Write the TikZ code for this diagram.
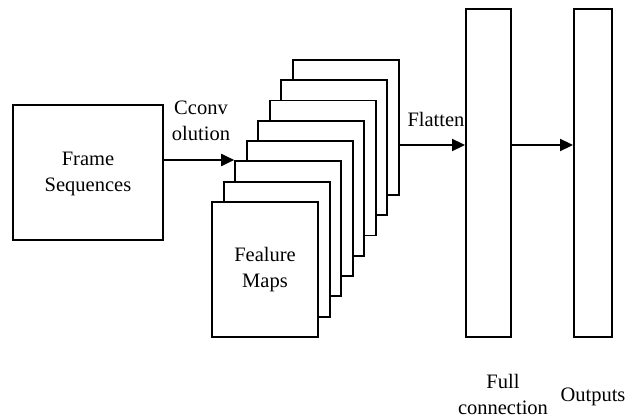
\documentclass[tikz,border=0pt]{standalone}
\usepackage{fontspec}
\setmainfont{Liberation Serif}
\usetikzlibrary{arrows.meta,calc}
\begin{document}
\begin{tikzpicture}[x=1pt,y=-1pt,
  box/.style={draw,line width=1.9pt,fill=white,inner sep=0pt},
  lbl/.style={font=\fontsize{20.5}{26}\selectfont,align=center,inner sep=0pt},
  conn/.style={line width=1.9pt,-{Triangle[length=13pt,width=12pt]}}]
\useasboundingbox (0,0) rectangle (639,419);

% input block
\node[box,minimum width=150pt,minimum height=135pt] (frames) at (88,172.5) {};
\node[lbl] (framestxt) at (88,174) {Frame\\Sequences};

% stack of feature maps, back to front
\foreach \i in {7,6,...,0}{
  \pgfmathsetmacro{\cx}{265+11.57*\i}
  \pgfmathsetmacro{\cy}{269.5-20.3*\i}
  \node[box,minimum width=106pt,minimum height=135pt] (fm\i) at (\cx,\cy) {};
}
\node[lbl] (fmtxt) at (265,270) {Fealure\\Maps};

% dense layers
\node[box,minimum width=45pt,minimum height=328pt] (fc) at (488.5,173) {};
\node[box,minimum width=38pt,minimum height=328pt] (out) at (593,173) {};

% connectors
\coordinate (lev) at (0,145);
\coordinate (inlev) at (0,160);
\draw[conn] (frames.east |- inlev) -- (fm2.west |- inlev);
\draw[conn] (fm7.east |- lev) -- (fc.west |- lev);
\draw[conn] (fc.east |- lev) -- (out.west |- lev);

% labels
\node[lbl] (convtxt) at (201,121) {Cconv\\olution};
\node[lbl] (flattxt) at (436,119) {Flatten};
\node[lbl] (fctxt) at (503,394) {Full\\connection};
\node[lbl] (outtxt) at (593,397) {Outputs};
\end{tikzpicture}
\end{document}
